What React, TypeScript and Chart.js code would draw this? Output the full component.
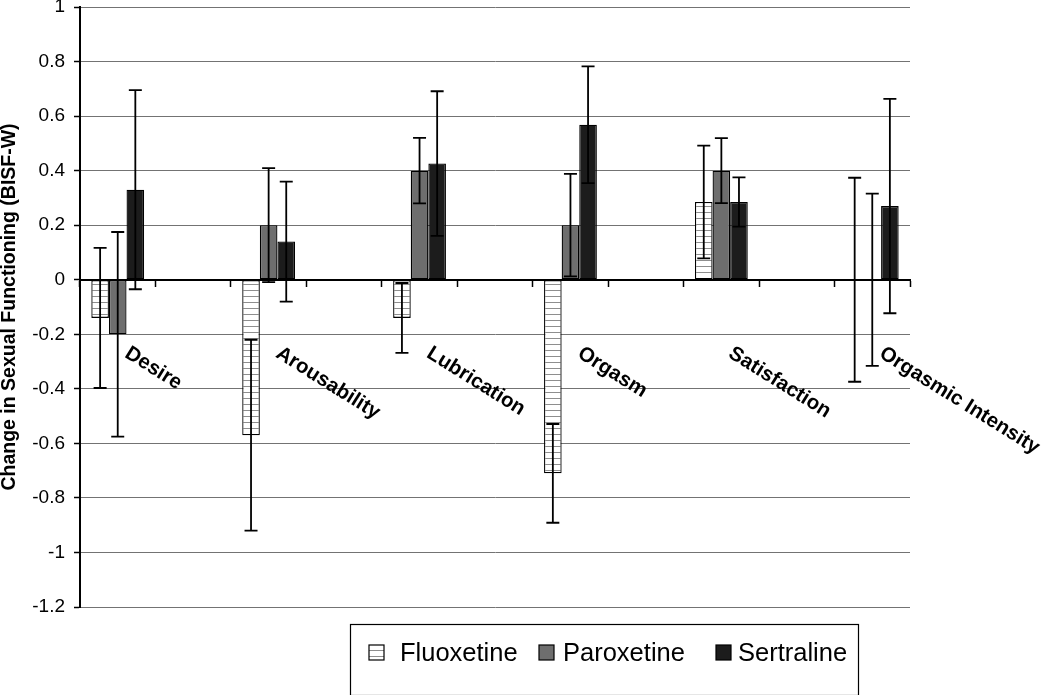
import React, { useEffect, useRef } from 'react';
import { Chart, registerables } from 'chart.js';

Chart.register(...registerables);

// ---- Data ----
const CATEGORIES = ['Desire', 'Arousability', 'Lubrication', 'Orgasm', 'Satisfaction', 'Orgasmic Intensity'];
const SERIES_NAMES = ['Fluoxetine', 'Paroxetine', 'Sertraline'];

const FLUOXETINE = [-0.14, -0.57, -0.14, -0.71, 0.285, 0];
const FLUOXETINE_ERR = [0.257, 0.35, 0.128, 0.181, 0.207, 0.374];
const PAROXETINE = [-0.2, 0.2, 0.4, 0.2, 0.4, 0];
const PAROXETINE_ERR = [0.375, 0.209, 0.12, 0.188, 0.119, 0.316];
const SERTRALINE = [0.33, 0.14, 0.426, 0.568, 0.285, 0.27];
const SERTRALINE_ERR = [0.365, 0.22, 0.265, 0.214, 0.09, 0.393];

const Y_TICKS = [1, 0.8, 0.6, 0.4, 0.2, 0, -0.2, -0.4, -0.6, -0.8, -1, -1.2];
const Y_AXIS_TITLE = 'Change in Sexual Functioning (BISF-W)';

// Spread the categories with blank spacer slots between them (as in the original chart)
function spread<T>(arr: T[], filler: T): T[] {
  const out: T[] = [];
  arr.forEach((v, i) => {
    out.push(v);
    if (i < arr.length - 1) out.push(filler);
  });
  return out;
}

const SLOT_LABELS = spread<string>(CATEGORIES, '');
const SERIES_VALUES = [FLUOXETINE, PAROXETINE, SERTRALINE];
const SERIES_ERRORS = [FLUOXETINE_ERR, PAROXETINE_ERR, SERTRALINE_ERR];

const FONT = '"Liberation Sans", Arial, Helvetica, sans-serif';

function makeStripePattern(ctx: CanvasRenderingContext2D): CanvasPattern | string {
  const c = document.createElement('canvas');
  c.width = 8;
  c.height = 6;
  const p = c.getContext('2d');
  if (!p) return '#fff';
  p.fillStyle = '#ffffff';
  p.fillRect(0, 0, 8, 6);
  p.fillStyle = '#8e8e8e';
  p.fillRect(0, 2, 8, 1);
  return ctx.createPattern(c, 'repeat') || '#fff';
}

const errorBarPlugin = {
  id: 'errorBars',
  afterDatasetsDraw(chart: any) {
    const ctx = chart.ctx;
    const yScale = chart.scales.y;
    chart.data.datasets.forEach((ds: any, di: number) => {
      const meta = chart.getDatasetMeta(di);
      const errs: (number | null)[] = ds.errorValues || [];
      meta.data.forEach((bar: any, i: number) => {
        const v = ds.data[i];
        const e = errs[i];
        if (v == null || e == null) return;
        const x = bar.x;
        const yTop = yScale.getPixelForValue(v + e);
        const yBot = yScale.getPixelForValue(v - e);
        ctx.save();
        ctx.strokeStyle = '#000';
        ctx.lineWidth = 1.8;
        ctx.beginPath();
        ctx.moveTo(x, yTop);
        ctx.lineTo(x, yBot);
        ctx.moveTo(x - 6.5, yTop);
        ctx.lineTo(x + 6.5, yTop);
        ctx.moveTo(x - 6.5, yBot);
        ctx.lineTo(x + 6.5, yBot);
        ctx.stroke();
        ctx.restore();
      });
    });
  },
};

const categoryLabelPlugin = {
  id: 'categoryLabels',
  afterDraw(chart: any) {
    const ctx = chart.ctx;
    const xScale = chart.scales.x;
    const yScale = chart.scales.y;
    const y0 = yScale.getPixelForValue(0);
    ctx.save();
    ctx.fillStyle = '#000';
    ctx.font = `bold 20.5px ${FONT}`;
    ctx.textAlign = 'left';
    ctx.textBaseline = 'middle';
    chart.data.labels.forEach((lab: string, i: number) => {
      if (!lab) return;
      const x = xScale.getPixelForValue(i);
      ctx.save();
      ctx.translate(x + 9, y0 + 72);
      ctx.rotate((32 * Math.PI) / 180);
      ctx.fillText(lab, 0, 0);
      ctx.restore();
    });
    ctx.restore();
  },
};

const legendPlugin = {
  id: 'boxLegend',
  afterDraw(chart: any) {
    const ctx = chart.ctx;
    const left = 350, top = 624, width = 508, height = 71;
    ctx.save();
    ctx.strokeStyle = '#000';
    ctx.lineWidth = 1.2;
    ctx.strokeRect(left + 0.5, top + 0.5, width, height);
    ctx.font = `25.5px ${FONT}`;
    ctx.textBaseline = 'middle';
    ctx.textAlign = 'left';
    const cy = 652.5;
    const swatchX = [369, 539, 716];
    const textX = [400, 563, 738];
    chart.data.datasets.forEach((ds: any, i: number) => {
      const sx = swatchX[i];
      ctx.fillStyle = ds.backgroundColor;
      ctx.fillRect(sx, cy - 7.5, 15, 15);
      ctx.strokeStyle = '#000';
      ctx.lineWidth = 1.2;
      ctx.strokeRect(sx, cy - 7.5, 15, 15);
      ctx.fillStyle = '#000';
      ctx.fillText(ds.label, textX[i], cy + 1);
    });
    ctx.restore();
  },
};

export default function App() {
  const canvasRef = useRef<HTMLCanvasElement | null>(null);

  useEffect(() => {
    const canvas = canvasRef.current;
    if (!canvas) return;
    const ctx = canvas.getContext('2d');
    if (!ctx) return;

    const fills = [makeStripePattern(ctx), '#6e6e6e', '#1c1c1c'];

    const chart = new Chart(ctx, {
      type: 'bar',
      data: {
        labels: SLOT_LABELS,
        datasets: SERIES_NAMES.map((name, i) => ({
          label: name,
          data: spread<number | null>(SERIES_VALUES[i], null),
          errorValues: spread<number | null>(SERIES_ERRORS[i], null),
          backgroundColor: fills[i] as any,
          borderColor: '#000',
          borderWidth: 1.3,
          borderSkipped: false,
          categoryPercentage: 0.7,
          barPercentage: 1.0,
        })) as any,
      },
      options: {
        animation: false,
        responsive: false,
        maintainAspectRatio: false,
        layout: { padding: { left: 0, top: 7, right: 140, bottom: 88 } },
        plugins: {
          legend: { display: false },
          tooltip: { enabled: false },
        },
        scales: {
          x: {
            type: 'category',
            position: { y: 0 } as any,
            offset: true,
            grid: {
              offset: true,
              drawOnChartArea: false,
              drawTicks: true,
              tickLength: 6,
              tickColor: '#000',
              tickWidth: 1.5,
            },
            border: { display: true, color: '#000', width: 2 },
            ticks: { display: false },
          },
          y: {
            type: 'linear',
            min: -1.2,
            max: 1,
            afterBuildTicks: (scale: any) => {
              scale.ticks = Y_TICKS.map((v) => ({ value: v }));
            },
            afterFit: (scale: any) => {
              scale.width = 80;
              scale.paddingTop = 0;
              scale.paddingBottom = 0;
            },
            grid: {
              color: '#737373',
              lineWidth: 1,
              drawTicks: true,
              tickLength: 6,
              tickColor: '#000',
              tickWidth: 1.5,
            },
            border: { display: true, color: '#000', width: 2 },
            ticks: {
              color: '#000',
              padding: 9,
              font: { family: FONT, size: 19 },
              callback: (v: any) => String(Number(Number(v).toFixed(1))),
            },
            title: {
              display: true,
              text: Y_AXIS_TITLE,
              color: '#000',
              font: { family: FONT, size: 19.5, weight: 'bold', lineHeight: 1 },
              padding: { top: 0, bottom: 0 },
            },
          },
        },
      },
      plugins: [errorBarPlugin, categoryLabelPlugin, legendPlugin],
    });

    return () => chart.destroy();
  }, []);

  return (
    <div style={{ position: 'fixed', left: 0, top: 0, width: 1050, height: 695, background: '#fff' }}>
      <canvas ref={canvasRef} width={1050} height={695} style={{ display: 'block' }} />
    </div>
  );
}
